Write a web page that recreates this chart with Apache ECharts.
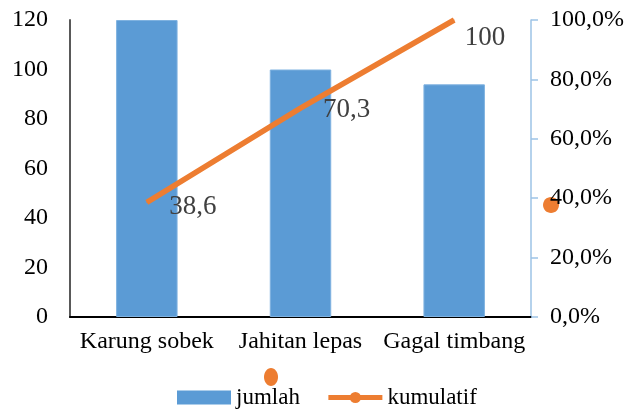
<!DOCTYPE html>
<html lang="id">
<head>
    <meta charset="UTF-8">
    <title>Pareto kerusakan</title>
    <script src="https://cdn.jsdelivr.net/npm/echarts@6/dist/echarts.min.js"></script>
    <style>
        html, body { margin: 0; padding: 0; background: #fff; }
        #chartmain { width: 627px; height: 410px; }
    </style>
</head>
<body>
<div id="chartmain"></div>
<script>
    // data
    var kategori = ['Karung sobek', 'Jahitan lepas', 'Gagal timbang'];
    var jumlah = [120, 100, 94];
    var kumulatif = [38.6, 70.3, 100];
    var labelKumulatif = ['38,6', '70,3', '100'];

    var serif = '"Liberation Serif", "Times New Roman", serif';

    function persen(v) {
        return v.toFixed(1).replace('.', ',') + '%';
    }

    var titikLabel = [
        {offset: [0, 5]},
        {offset: [0, 2]},
        {offset: [-12, 18]}
    ];

    var dataLine = kumulatif.map(function (v, i) {
        return {value: v, label: titikLabel[i]};
    });

    var option = {
        animation: false,
        grid: {left: 70, right: 95, top: 20, bottom: 93},
        legend: {
            top: 381,
            left: 172,
            itemGap: 26,
            itemWidth: 54,
            itemHeight: 14,
            textStyle: {fontFamily: serif, fontSize: 23, color: '#000'},
            data: [
                {name: 'jumlah', icon: 'rect', itemStyle: {borderWidth: 0}},
                {name: 'kumulatif', itemStyle: {color: '#ED7D31'}, lineStyle: {width: 5, color: '#ED7D31'}}
            ]
        },
        xAxis: {
            type: 'category',
            data: kategori,
            axisLine: {lineStyle: {color: '#000', width: 2}},
            axisTick: {show: false},
            axisLabel: {fontFamily: serif, fontSize: 24, color: '#000', margin: 13, interval: 0}
        },
        yAxis: [{
            type: 'value',
            min: 0, max: 120, interval: 20,
            splitLine: {show: false},
            axisLine: {show: true, lineStyle: {color: '#595959', width: 2}},
            axisTick: {show: false},
            axisLabel: {fontFamily: serif, fontSize: 24, color: '#000', margin: 22}
        }, {
            type: 'value',
            min: 0, max: 100, interval: 20,
            position: 'right',
            splitLine: {show: false},
            axisLine: {show: true, lineStyle: {color: '#9DC3E6', width: 1.5}},
            axisTick: {show: true, length: 7, inside: false, lineStyle: {color: '#9DC3E6', width: 1.5}},
            axisLabel: {fontFamily: serif, fontSize: 24, color: '#000', margin: 19, formatter: persen}
        }],
        series: [{
            name: 'jumlah',
            type: 'bar',
            data: jumlah,
            barWidth: '40%',
            itemStyle: {color: '#5B9BD5', borderColor: '#7FB2E0', borderWidth: 1}
        }, {
            name: 'kumulatif',
            type: 'line',
            yAxisIndex: 1,
            data: dataLine,
            symbol: 'circle',
            symbolSize: 1,
            itemStyle: {color: '#ED7D31'},
            lineStyle: {color: '#ED7D31', width: 5.5},
            label: {
                show: true,
                position: 'right',
                distance: 22,
                fontFamily: serif,
                fontSize: 27,
                color: '#404040',
                formatter: function (p) {
                    return labelKumulatif[p.dataIndex];
                }
            }
        }],
        graphic: [
            {type: 'ellipse', shape: {cx: 551, cy: 205, rx: 8, ry: 8}, style: {fill: '#ED7D31'}},
            {type: 'ellipse', shape: {cx: 271, cy: 377, rx: 7, ry: 9}, style: {fill: '#ED7D31'}}
        ]
    };

    var myChart = echarts.init(document.getElementById('chartmain'));
    myChart.setOption(option);
</script>
</body>
</html>
